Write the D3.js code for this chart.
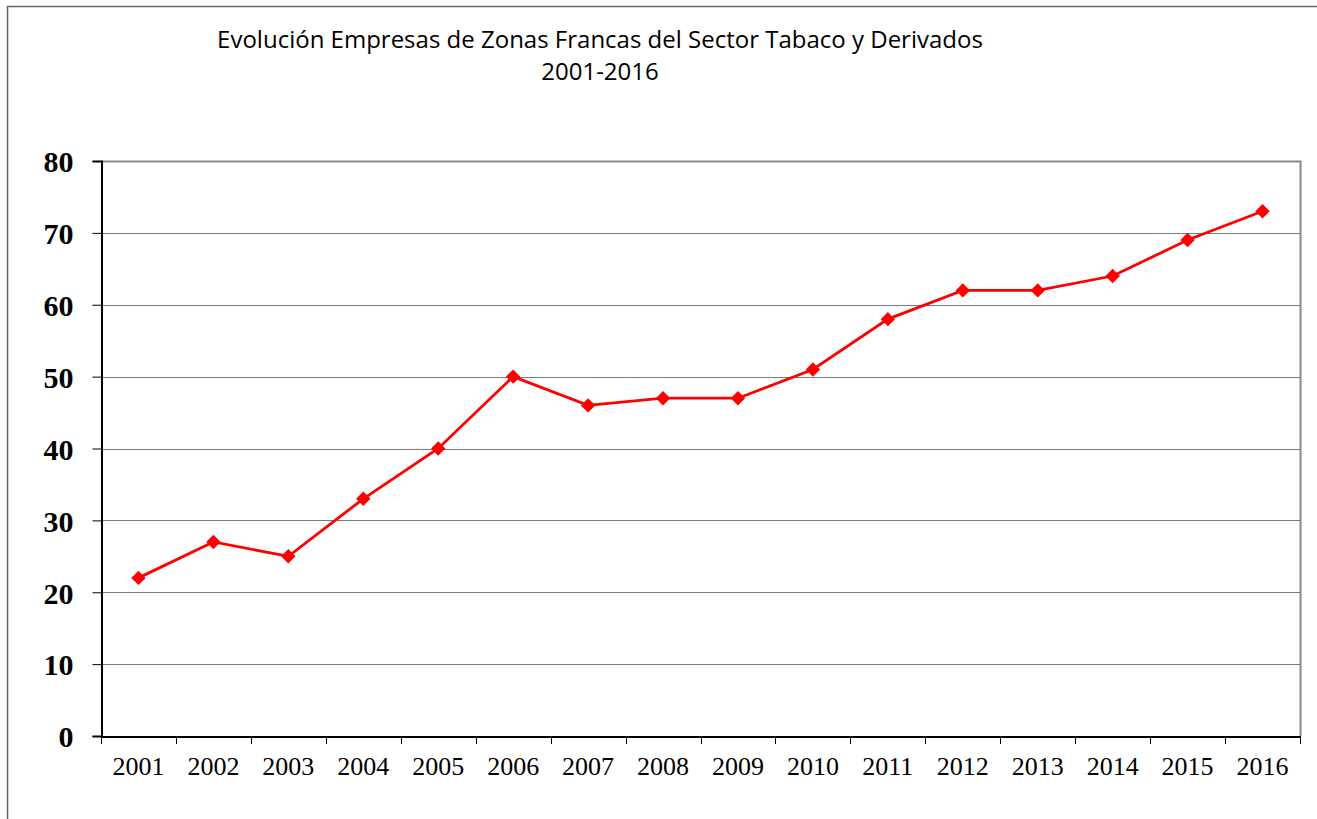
<!DOCTYPE html>
<html>
<head>
<meta charset="utf-8">
<script src="https://cdn.jsdelivr.net/npm/d3@7"></script>
<style>
  body { margin: 0; background: #fff; }
  svg { display: block; }
</style>
</head>
<body>
<svg id="chart" width="1317" height="819"></svg>
<script>
  var years = ["2001", "2002", "2003", "2004", "2005", "2006", "2007", "2008",
               "2009", "2010", "2011", "2012", "2013", "2014", "2015", "2016"];
  var empresas = [22, 27, 25, 33, 40, 50, 46, 47, 47, 51, 58, 62, 62, 64, 69, 73];
  var yTicks = [0, 10, 20, 30, 40, 50, 60, 70, 80];
  var titleLines = ["Evolución Empresas de Zonas Francas del Sector Tabaco y Derivados", "2001-2016"];

  var svg = d3.select("#chart");
  // plot box (window.top is reserved, so plotTop etc.)
  var plotLeft = 101, plotRight = 1300, plotTop = 161, plotBottom = 736;

  // outer frame
  svg.append("path")
      .attr("d", "M7.5,819 L7.5,6.5 L1317,6.5")
      .attr("fill", "none")
      .attr("stroke", "#666")
      .attr("stroke-width", 1.5);

  var x = d3.scaleBand().domain(years).range([plotLeft, plotRight]);
  var y = d3.scaleLinear().domain([0, 80]).range([plotBottom, plotTop]);

  // gridlines
  svg.append("g")
      .selectAll("line").data(yTicks.slice(1, -1)).enter()
      .append("line")
      .attr("x1", plotLeft).attr("x2", plotRight)
      .attr("y1", function (d) { return Math.round(y(d)) + 0.5; })
      .attr("y2", function (d) { return Math.round(y(d)) + 0.5; })
      .attr("stroke", "#7a7a7a")
      .attr("stroke-width", 1);

  // plot frame top/right
  svg.append("path")
      .attr("d", "M" + plotLeft + "," + (plotTop + 0.5) + " L" + (plotRight + 0.5) + "," + (plotTop + 0.5) + " L" + (plotRight + 0.5) + "," + plotBottom)
      .attr("fill", "none")
      .attr("stroke", "#888")
      .attr("stroke-width", 2);

  // y axis
  var yAxis = svg.append("g")
      .attr("transform", "translate(" + (plotLeft + 0.5) + ",0)")
      .call(d3.axisLeft(y).tickValues(yTicks).tickSize(9).tickPadding(19));
  yAxis.select(".domain").attr("stroke", "#000").attr("stroke-width", 2);
  yAxis.selectAll(".tick line").attr("stroke", "#000");
  yAxis.selectAll(".tick text")
      .attr("font-family", "'Liberation Serif', 'Times New Roman', serif")
      .attr("font-weight", "bold")
      .attr("font-size", 30)
      .attr("dy", "0.36em")
      .attr("fill", "#000");

  // x axis
  var xAxis = svg.append("g")
      .attr("transform", "translate(0," + (plotBottom + 0.5) + ")")
      .call(d3.axisBottom(x).tickSize(0).tickPadding(20));
  xAxis.select(".domain").attr("stroke", "#000").attr("stroke-width", 2);
  xAxis.selectAll(".tick text")
      .attr("font-family", "'Liberation Serif', 'Times New Roman', serif")
      .attr("font-size", 26)
      .attr("fill", "#000");

  // x ticks at band boundaries
  var bounds = years.map(function (d) { return x(d); }).concat([plotRight]);
  svg.append("g")
      .selectAll("line").data(bounds).enter()
      .append("line")
      .attr("x1", function (d) { return Math.round(d) + 0.5; })
      .attr("x2", function (d) { return Math.round(d) + 0.5; })
      .attr("y1", plotBottom).attr("y2", plotBottom + 8)
      .attr("stroke", "#000")
      .attr("stroke-width", 1);

  // series
  var line = d3.line()
      .x(function (d, i) { return x(years[i]) + x.bandwidth() / 2; })
      .y(function (d) { return y(d); });

  svg.append("path")
      .datum(empresas)
      .attr("d", line)
      .attr("fill", "none")
      .attr("stroke", "#ff0000")
      .attr("stroke-width", 2.8);

  svg.append("g")
      .selectAll("path").data(empresas).enter()
      .append("path")
      .attr("d", d3.symbol().type(d3.symbolSquare).size(105))
      .attr("transform", function (d, i) {
        return "translate(" + (x(years[i]) + x.bandwidth() / 2) + "," + y(d) + ") rotate(45)";
      })
      .attr("fill", "#ff0000");

  // title
  svg.append("g")
      .selectAll("text").data(titleLines).enter()
      .append("text")
      .attr("x", 600)
      .attr("y", function (d, i) { return 48 + i * 32; })
      .attr("text-anchor", "middle")
      .attr("font-family", "'Open Sans', sans-serif")
      .attr("font-size", 24)
      .attr("fill", "#000")
      .text(function (d) { return d; });
</script>
</body>
</html>
